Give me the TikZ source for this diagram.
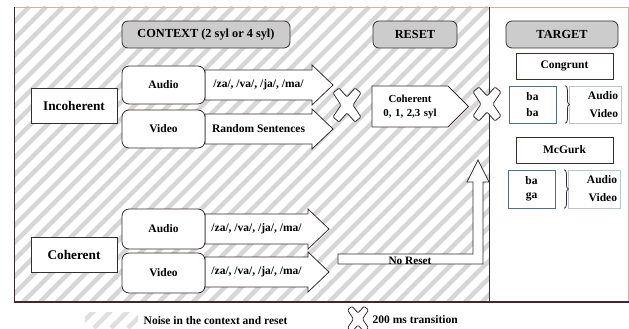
\documentclass[tikz,border=0pt]{standalone}
\usepackage{fontspec}
\setmainfont{Liberation Serif}
\usetikzlibrary{shapes.symbols,decorations.pathreplacing}

\definecolor{edge}{RGB}{55,45,45}
\definecolor{frame}{RGB}{215,175,170}
\definecolor{bablue}{RGB}{80,110,135}
\definecolor{avgray}{RGB}{185,196,204}

% fat stream arrow: name, centre y, tip x, text
\newcommand{\streamarrow}[4]{%
  \draw[edge,fill=white,line width=0.8pt] (205,#2-15) -- (#3-21,#2-15) -- (#3-21,#2-20)
    -- (#3,#2) -- (#3-21,#2+20) -- (#3-21,#2+15) -- (205,#2+15) -- cycle;
  \node[arrow text] (#1) at ({(205+#3-21)/2},#2) {#4};}

\tikzset{swap mark/.pic={
  \draw[edge,fill=white,line width=0.8pt,rounded corners=1.2pt] (0,-8) -- (8,-17) -- (14,-12)
    -- (6,0) -- (14,12) -- (8,17) -- (0,8) -- (-8,17) -- (-14,12) -- (-6,0)
    -- (-14,-12) -- (-8,-17) -- cycle;}}

\begin{document}
\begin{tikzpicture}[x=1pt,y=-1pt,line width=0.8pt,
    head node/.style={rectangle,rounded corners=6pt,draw=edge,fill=gray!40,
      font=\fontsize{12.3}{14}\selectfont\bfseries},
    group node/.style={rectangle,draw=edge,fill=white,minimum width=86pt,minimum height=35pt,
      font=\fontsize{13.3}{15}\selectfont\bfseries},
    stream node/.style={rectangle,rounded corners=7pt,draw=edge,fill=white,minimum width=83pt,
      font=\fontsize{11.5}{13}\selectfont\bfseries},
    arrow text/.style={font=\fontsize{11.5}{13}\selectfont\bfseries},
    target node/.style={rectangle,draw=edge,fill=white,minimum width=97pt,minimum height=26pt,
      font=\fontsize{11.5}{13}\selectfont\bfseries},
    syl node/.style={rectangle,draw=bablue,fill=white,minimum width=47pt,
      minimum height=37pt,font=\fontsize{11.5}{18}\selectfont\bfseries},
    mod node/.style={rectangle,draw=avgray,fill=white,text width=46pt,inner xsep=3pt,
      minimum height=37pt,align=right,font=\fontsize{11.5}{18}\selectfont\bfseries},
    stripe/.style={gray!32,line width=4.5pt},
    legend/.style={anchor=west,font=\fontsize{11.5}{13}\selectfont\bfseries}]
  \useasboundingbox (0,0) rectangle (629,329);

  % noise hatching
  \begin{scope}
    \clip (14,7) rectangle (489,302);
    \foreach \i in {-300,-283,...,500}
      \draw[stripe] (\i,302) -- ++(295,-295);
  \end{scope}
  \draw[frame] (14,7) -- (628,7) -- (628,302);
  \draw[edge] (14,7) -- (14,302);
  \draw[edge,line width=1.3pt] (14,302) -- (629,302);

  % headers
  \node[head node,minimum width=168pt,minimum height=27pt] (ctx) at (206,34.5) {CONTEXT (2 syl or 4 syl)};
  \node[head node,minimum width=84pt,minimum height=27pt] (rst) at (415,34.5) {RESET};
  \node[head node,minimum width=112pt,minimum height=27pt] (tgt) at (562,34.5) {TARGET};

  % context streams
  \streamarrow{inca}{85}{333}{/za/, /va/, /ja/, /ma/}
  \streamarrow{incv}{129}{333}{Random Sentences}
  \streamarrow{coha}{229}{329}{/za/, /va/, /ja/, /ma/}
  \streamarrow{cohv}{272}{329}{/za/, /va/, /ja/, /ma/}

  \node[group node] (inc) at (74,105.5) {Incoherent};
  \node[stream node,minimum height=38pt] (incA) at (163.5,85) {Audio};
  \node[stream node,minimum height=38pt] (incV) at (163.5,129) {Video};
  \node[group node] (coh) at (74,254.5) {Coherent};
  \node[stream node,minimum height=40pt] (cohA) at (163.5,229) {Audio};
  \node[stream node,minimum height=40pt] (cohV) at (163.5,273) {Video};

  % reset
  \node[signal,signal to=east,draw=edge,fill=white,text width=76pt,inner xsep=0pt,
    minimum height=41pt,align=center,font=\fontsize{10.8}{14}\selectfont\bfseries]
    (reset) at (410,106.5) {Coherent\\0, 1, 2,3 syl};
  \draw[edge,fill=white] (338,254) -- (473,254) -- (473,182) -- (467,182) -- (478,160)
    -- (489,182) -- (483,182) -- (483,264) -- (338,264) -- cycle;
  \node[font=\fontsize{11.3}{13}\selectfont\bfseries] (nr) at (410,261) {No Reset};

  \draw[edge] (489,7) -- (489,302);
  \pic at (347,105) {swap mark};
  \pic at (487,104) {swap mark};

  % target
  \node[target node] (cong) at (564.5,66) {Congrunt};
  \node[syl node] (bb1) at (532.5,104.5) {\shortstack{ba\\[5pt]ba}};
  \node[mod node] (av1) at (595,104.5) {Audio\\Video};
  \draw[edge,decorate,decoration={brace,amplitude=4pt}]
    ([xshift=9pt]bb1.north east) -- ([xshift=9pt]bb1.south east);
  \node[target node] (mcg) at (564.5,150) {McGurk};
  \node[syl node,minimum height=38pt] (bb2) at (531.5,189) {\shortstack{ba\\[5pt]ga}};
  \node[mod node,minimum height=38pt] (av2) at (594,189) {Audio\\Video};
  \draw[edge,decorate,decoration={brace,amplitude=4pt}]
    ([xshift=9pt]bb2.north east) -- ([xshift=9pt]bb2.south east);

  % legend
  \begin{scope}
    \clip (85,312) rectangle (138,328);
    \foreach \i in {60,77,...,140}
      \draw[gray!25,line width=4.5pt] (\i,328) -- ++(25,-25);
  \end{scope}
  \node[legend] (noise) at (140,321) {Noise in the context and reset};
  \pic[scale=0.75] at (358,319) {swap mark};
  \node[legend] (trans) at (369,320) {200 ms transition};
\end{tikzpicture}
\end{document}
